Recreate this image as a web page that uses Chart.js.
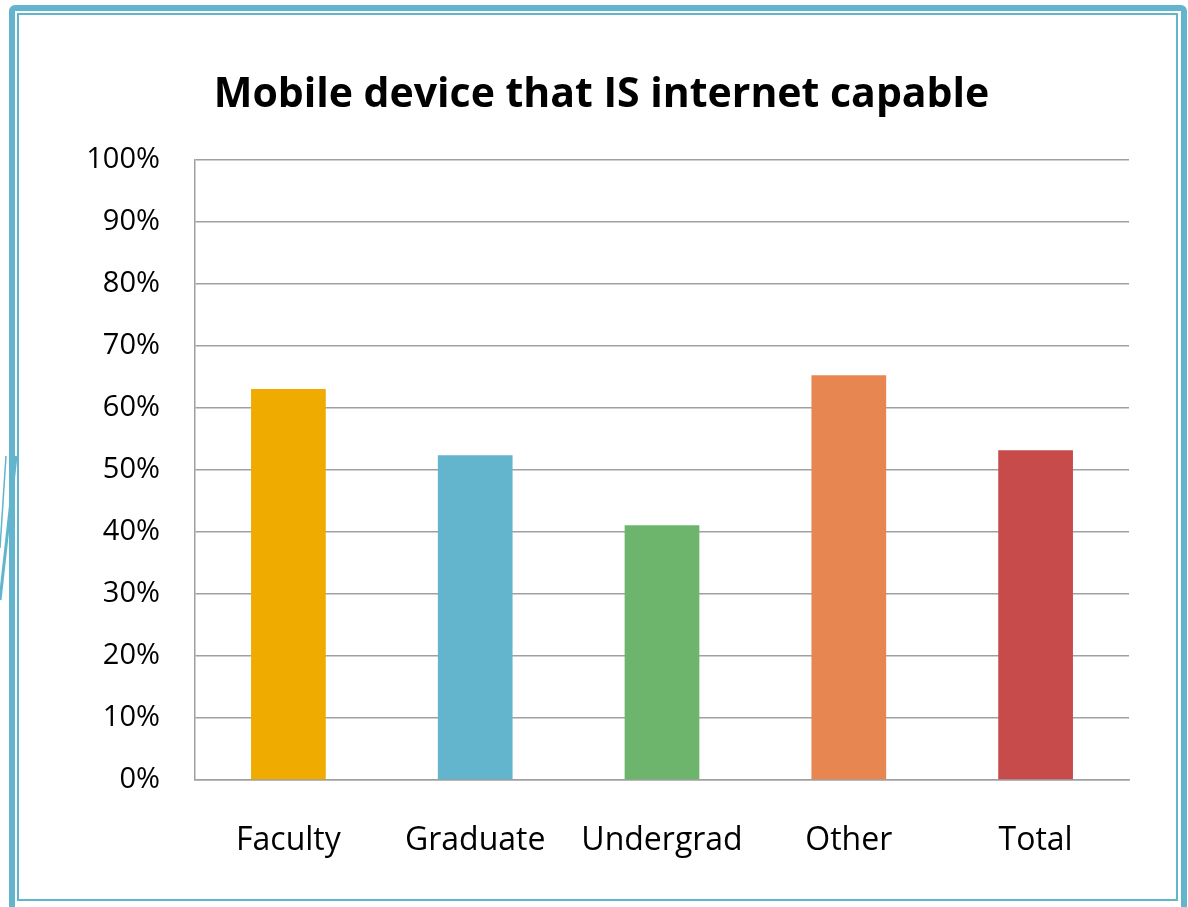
<!DOCTYPE html>
<html>
<head>
<meta charset="utf-8">
<script src="https://cdn.jsdelivr.net/npm/chart.js@4.4.0/dist/chart.umd.min.js"></script>
<style>
  html, body { margin: 0; padding: 0; background: #fff; }
  #page { position: relative; width: 1188px; height: 907px; overflow: hidden; }
  .frame-outer { position: absolute; left: 9px; top: 5px; width: 1166px; height: 898px;
                 border: 6px solid #62B5CC; border-radius: 6px 6px 0 0; }
  .frame-inner { position: absolute; left: 17px; top: 13px; width: 1157px; height: 884px;
                 border: 2px solid #62B5CC; }
  #deco { position: absolute; left: 0; top: 0; }
  #wrap { position: absolute; left: 0; top: 0; width: 1188px; height: 907px; }
</style>
</head>
<body>
<div id="page">
  <div class="frame-outer"></div>
  <div class="frame-inner"></div>
  <svg id="deco" width="40" height="907">
    <line x1="6" y1="456" x2="0" y2="548" stroke="#62B5CC" stroke-width="1.5"/>
    <line x1="16" y1="456" x2="0" y2="600" stroke="#62B5CC" stroke-width="3"/>
  </svg>
  <div id="wrap"><canvas id="chart" width="1188" height="907"></canvas></div>
</div>
<script>
const categories = ['Faculty', 'Graduate', 'Undergrad', 'Other', 'Total'];
const shareCapable = [0.631, 0.524, 0.411, 0.653, 0.532];
const barColors = ['#F0AB00', '#62B5CC', '#6DB56D', '#E88651', '#C84B4B'];
const yTicks = [0, 0.1, 0.2, 0.3, 0.4, 0.5, 0.6, 0.7, 0.8, 0.9, 1.0];

const FONT = "'Open Sans', 'Noto Sans', sans-serif";

new Chart(document.getElementById('chart'), {
  type: 'bar',
  data: {
    labels: categories,
    datasets: [{
      data: shareCapable,
      backgroundColor: barColors,
      borderWidth: 0,
      barPercentage: 0.4,
      categoryPercentage: 1.0
    }]
  },
  options: {
    responsive: false,
    animation: false,
    layout: { padding: { left: 74, right: 59, top: 0, bottom: 0 } },
    plugins: {
      legend: { display: false },
      tooltip: { enabled: false },
      title: {
        display: true,
        text: 'Mobile device that IS internet capable',
        color: '#000',
        font: { family: FONT, size: 41, weight: 'bold', lineHeight: 1.2 },
        padding: { top: 71, bottom: 40 }
      }
    },
    scales: {
      x: {
        grid: { display: false, drawTicks: false },
        border: { display: true, color: '#A0A0A0', width: 1.5 },
        ticks: { color: '#000', font: { family: FONT, size: 32 }, padding: 42, maxRotation: 0 },
        afterFit: (s) => { s.height = 127; }
      },
      y: {
        min: 0,
        max: 1,
        afterBuildTicks: (s) => { s.ticks = yTicks.map(v => ({ value: v })); },
        grid: { color: '#A0A0A0', lineWidth: 1.5, drawTicks: false },
        border: { display: true, color: '#A0A0A0', width: 1.5 },
        ticks: {
          color: '#000',
          font: { family: FONT, size: 29 },
          padding: 35,
          callback: (v) => Math.round(v * 100) + '%'
        },
        afterFit: (s) => { s.width = 121; }
      }
    }
  }
});
</script>
</body>
</html>
